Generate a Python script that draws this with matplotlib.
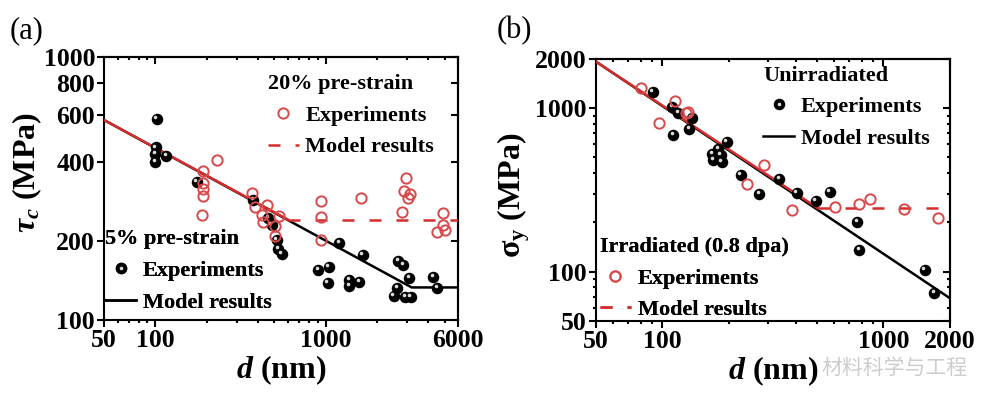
import numpy as np
import matplotlib
matplotlib.use('Agg')
import matplotlib.pyplot as plt
from matplotlib.lines import Line2D
from matplotlib.ticker import FixedLocator, LogLocator, NullFormatter, FuncFormatter
from matplotlib.transforms import offset_copy

plt.rcParams['font.family'] = 'Liberation Serif'
plt.rcParams['font.weight'] = 'bold'
plt.rcParams['mathtext.fontset'] = 'custom'
plt.rcParams['mathtext.rm'] = 'Liberation Serif:bold'
plt.rcParams['mathtext.it'] = 'Liberation Serif:italic:bold'
plt.rcParams['mathtext.sf'] = 'Liberation Serif:italic'
plt.rcParams['axes.linewidth'] = 1.5

# ---- panel (a): critical resolved shear stress vs grain size ----
pre5_exp_d = [102, 101, 100, 100, 116, 175, 377, 461, 483, 517, 528, 553,
              907, 1048, 1030, 1205, 1380, 1380, 1580, 1653,
              2675, 2860, 3105, 2640, 2520, 2930, 3160, 4300, 4540]
pre5_exp_t = [581, 453, 428, 399, 421, 336, 286, 244, 230, 201, 187, 178,
              155, 159, 138, 196, 142, 135, 140, 176,
              167, 162, 145, 132, 123, 122, 122, 146, 132]
pre20_exp_d = [229, 190, 190, 190, 190, 187, 368, 385, 451, 422, 431, 535, 505, 505,
               940, 940, 940, 1610, 2970, 2890, 3135, 3050, 2800, 4920, 4880, 4500, 5050]
pre20_exp_t = [405, 369, 331, 314, 296, 251, 303, 268, 274, 251, 236, 249, 228, 209,
               283, 246, 201, 290, 346, 310, 301, 290, 258, 256, 230, 217, 220]
pre5_model_d = [50, 3206, 6000]
pre5_model_t = [576, 133, 133]
pre20_model_d = [50, 600, 6000]
pre20_model_t = [576, 241, 241]

# ---- panel (b): yield strength, unirradiated vs irradiated ----
unirr_exp_d = [90.3, 111, 118, 136, 112, 132, 195, 179, 168, 170, 185, 184,
               226, 274, 338, 405, 493, 573, 762, 778, 1542, 1699]
unirr_exp_s = [1250, 1021, 930, 874, 685, 746, 618, 562, 522, 482, 466, 515,
               390, 297, 367, 304, 270, 308, 202, 135, 102, 73.6]
irr_exp_d = [79.7, 96.7, 114, 131, 128, 289, 242, 384, 604, 778, 869, 1242, 1771]
irr_exp_s = [1324, 815, 1106, 944, 930, 449, 342, 238, 249, 258, 277, 240, 212]
unirr_model_d = [50, 2000]
unirr_model_s = [1926, 68.6]
irr_model_d = [50, 505, 2000]
irr_model_s = [1926, 244, 244]

RED = '#d9484a'
RED_LINE = '#d42d2d'
DASH = (4.8, 6.0)
FS_LEG = 16
FS_TICK = 18.5
FS_LAB = 23


def balls(ax, fig, x, y):
    ax.plot(x, y, 'o', ms=8.3, color='black', mew=0, zorder=4)
    hl = offset_copy(ax.transData, fig=fig, x=-1.1, y=1.4, units='points')
    ax.plot(x, y, 'o', ms=2.6, color='#dadada', mew=0, transform=hl, zorder=5)


def rings(ax, x, y):
    ax.plot(x, y, 'o', ms=7.4, mfc='none', mec=RED, mew=1.4, zorder=6)


def style_axes(ax, xlim, ylim, xmaj, ymaj, yminor=True):
    ax.set_xscale('log')
    ax.set_yscale('log')
    ax.set_xlim(*xlim)
    ax.set_ylim(*ylim)
    fmt = FuncFormatter(lambda v, p: f'{v:g}')
    ax.xaxis.set_major_locator(FixedLocator(xmaj))
    ax.xaxis.set_major_formatter(fmt)
    ax.xaxis.set_minor_locator(LogLocator(base=10, subs=np.arange(2, 10), numticks=30))
    ax.xaxis.set_minor_formatter(NullFormatter())
    ax.yaxis.set_major_locator(FixedLocator(ymaj))
    ax.yaxis.set_major_formatter(fmt)
    if yminor:
        ax.yaxis.set_minor_locator(LogLocator(base=10, subs=np.arange(2, 10), numticks=30))
    else:
        ax.yaxis.set_minor_locator(FixedLocator([]))
    ax.yaxis.set_minor_formatter(NullFormatter())
    ax.tick_params(which='both', direction='out', width=1.5, labelsize=FS_TICK)
    ax.tick_params(which='major', length=5, pad=1.5)
    ax.tick_params(which='minor', length=2.5)
    for lab in ax.get_xticklabels() + ax.get_yticklabels():
        lab.set_fontweight('bold')

    # mirrored ticks on top / right point inwards
    top = ax.secondary_xaxis('top')
    top.xaxis.set_major_locator(FixedLocator(xmaj))
    top.xaxis.set_minor_locator(LogLocator(base=10, subs=np.arange(2, 10), numticks=30))
    top.tick_params(which='both', direction='in', width=1.5, labeltop=False)
    top.tick_params(which='major', length=5)
    top.tick_params(which='minor', length=2.5)
    right = ax.secondary_yaxis('right')
    right.yaxis.set_major_locator(FixedLocator(ymaj))
    if yminor:
        right.yaxis.set_minor_locator(LogLocator(base=10, subs=np.arange(2, 10), numticks=30))
    else:
        right.yaxis.set_minor_locator(FixedLocator([]))
    right.tick_params(which='both', direction='in', width=1.5, labelright=False)
    right.tick_params(which='major', length=5)
    right.tick_params(which='minor', length=2.5)


def legend_block(ax, handles, labels, title, anchor):
    leg = ax.legend(handles, labels, title=title, loc='upper left', bbox_to_anchor=anchor,
                    frameon=False, fontsize=FS_LEG,
                    title_fontproperties={'weight': 'bold', 'size': FS_LEG},
                    alignment='left', handlelength=1.4, handletextpad=0.3,
                    labelspacing=0.5, borderpad=0, borderaxespad=0)
    ax.add_artist(leg)
    return leg


fig = plt.figure(figsize=(9.88, 3.96), dpi=100)
ax1 = fig.add_axes([0.1053, 0.1919, 0.3583, 0.6641])
ax2 = fig.add_axes([0.6032, 0.1902, 0.3583, 0.6609])

# legend handles shared by both panels
h_ball = (Line2D([], [], ls='none', marker='o', ms=8.3, color='black', mew=0),
          Line2D([], [], ls='none', marker='o', ms=2.6, color='#dadada', mew=0))
h_black = Line2D([], [], color='black', lw=1.8)
h_ring = Line2D([], [], ls='none', marker='o', ms=7.4, mfc='none', mec=RED, mew=1.4)
h_red = Line2D([], [], color=RED_LINE, lw=1.8, dashes=DASH)

# panel (a)
ax1.plot(pre5_model_d, pre5_model_t, color='black', lw=1.8, zorder=2)
ax1.plot(pre20_model_d[:2], pre20_model_t[:2], color=RED_LINE, lw=1.8, zorder=3)
ax1.plot(pre20_model_d[1:], pre20_model_t[1:], color=RED_LINE, lw=1.8, dashes=DASH, zorder=3)
balls(ax1, fig, pre5_exp_d, pre5_exp_t)
rings(ax1, pre20_exp_d, pre20_exp_t)
style_axes(ax1, (50, 6000), (100, 1000), [50, 100, 1000, 6000],
           [100, 200, 400, 600, 800, 1000], yminor=False)
ax1.set_xlabel(r'$\mathit{d}$ (nm)', fontsize=FS_LAB, fontweight='bold', labelpad=1)
ax1.set_ylabel(r'$\mathsf{\tau_c}$ (MPa)', fontsize=FS_LAB, fontweight='bold')
ax1.yaxis.set_label_coords(-0.17, 0.56)
legend_block(ax1, [h_ring, h_red], ['Experiments', 'Model results'],
             '20% pre-strain', (0.462, 0.935))
legend_block(ax1, [h_ball, h_black], ['Experiments', 'Model results'],
             '5% pre-strain', (0.003, 0.345))
fig.text(0.010, 0.96, '(a)', fontsize=22, fontweight='normal', va='top')

# panel (b)
ax2.plot(unirr_model_d, unirr_model_s, color='black', lw=1.8, zorder=2)
ax2.plot(irr_model_d[:2], irr_model_s[:2], color=RED_LINE, lw=1.8, zorder=3)
ax2.plot(irr_model_d[1:], irr_model_s[1:], color=RED_LINE, lw=1.8, dashes=DASH, zorder=3)
balls(ax2, fig, unirr_exp_d, unirr_exp_s)
rings(ax2, irr_exp_d, irr_exp_s)
style_axes(ax2, (50, 2000), (50, 2000), [50, 100, 1000, 2000], [50, 100, 1000, 2000])
ax2.set_xlabel(r'$\mathit{d}$ (nm)', fontsize=FS_LAB, fontweight='bold', labelpad=1)
ax2.set_ylabel(r'$\mathrm{\sigma_y}$ (MPa)', fontsize=FS_LAB, fontweight='bold')
ax2.yaxis.set_label_coords(-0.18, 0.48)
legend_block(ax2, [h_ball, h_black], ['Experiments', 'Model results'],
             'Unirradiated', (0.472, 0.975))
legend_block(ax2, [h_ring, h_red], ['Experiments', 'Model results'],
             'Irradiated (0.8 dpa)', (0.011, 0.32))
fig.text(0.503, 0.96, '(b)', fontsize=22, fontweight='normal', va='top')

# watermark
fig.text(0.905, 0.072, '材料科学与工程', fontsize=15, color='#c4c4c4', alpha=0.85,
         family=['Noto Sans CJK SC', 'DejaVu Sans'], fontweight='normal',
         ha='center', va='center', zorder=10)

fig.savefig('out.png', dpi=100)
